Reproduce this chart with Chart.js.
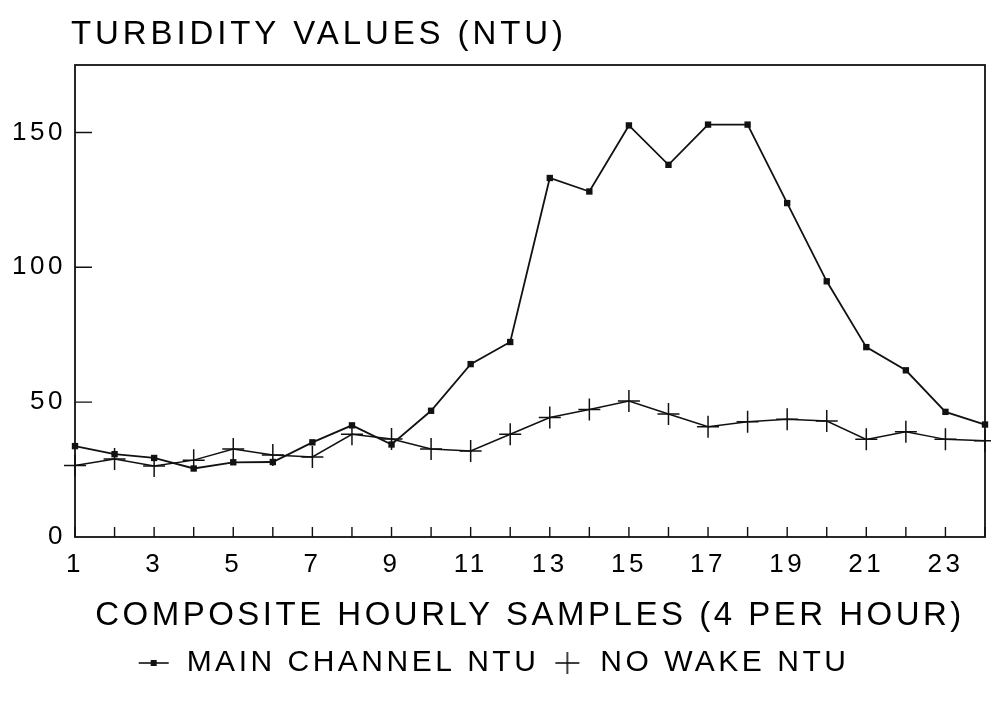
<!DOCTYPE html>
<html>
<head>
<meta charset="utf-8">
<script src="https://cdn.jsdelivr.net/npm/chart.js@4.4.1/dist/chart.umd.min.js"></script>
<style>
  html, body { margin: 0; padding: 0; background: #ffffff; }
  #wrap { width: 991px; height: 705px; position: relative; }
</style>
</head>
<body>
<div id="wrap"><canvas id="c" width="991" height="705"></canvas></div>
<script>
// ---- data ----
const samples = [1,2,3,4,5,6,7,8,9,10,11,12,13,14,15,16,17,18,19,20,21,22,23,24];
const mainChannelNTU = [33.7,30.7,29.3,25.4,27.7,27.8,35.1,41.4,34.3,46.8,64.1,72.3,133.1,128.1,152.6,138.0,152.9,152.9,123.8,94.8,70.4,61.8,46.4,41.7];
const noWakeNTU      = [26.5,28.9,26.3,28.5,32.6,30.4,29.7,38.1,36.3,32.6,31.9,38.1,44.3,47.3,50.4,45.6,40.9,42.7,43.7,43.0,36.2,39.0,36.2,35.7];
const yTickValues = [0, 50, 100, 150];
const xLabelValues = [1,3,5,7,9,11,13,15,17,19,21,23];
const chartTitle = 'TURBIDITY VALUES (NTU)';
const xAxisTitle = 'COMPOSITE HOURLY SAMPLES (4 PER HOUR)';
const seriesNames = ['MAIN CHANNEL NTU', 'NO WAKE NTU'];

const INK = '#111111';
const FONT = "'Liberation Sans', Arial, Helvetica, sans-serif";
const SPACING = '3.5px';

// legend icons (line + marker)
function makeIcon(kind) {
  const cv = document.createElement('canvas');
  cv.width = 36; cv.height = 26;
  const g = cv.getContext('2d');
  g.strokeStyle = INK; g.fillStyle = INK; g.lineWidth = 1.6;
  if (kind === 'rect') {
    g.beginPath(); g.moveTo(3, 13); g.lineTo(33, 13); g.stroke();
    g.fillRect(15, 10, 6, 6);
  } else {
    g.beginPath(); g.moveTo(6, 13); g.lineTo(30, 13); g.stroke();
    g.beginPath(); g.moveTo(18, 2); g.lineTo(18, 24); g.stroke();
  }
  return cv;
}
const icons = [makeIcon('rect'), makeIcon('cross')];

const toXY = (vals) => vals.map((v, i) => ({ x: samples[i], y: v }));

const spacingPlugin = {
  id: 'spacing',
  beforeUpdate(chart) { chart.ctx.letterSpacing = SPACING; },
  beforeLayout(chart) { chart.ctx.letterSpacing = SPACING; },
  beforeDraw(chart) { chart.ctx.letterSpacing = SPACING; }
};

const framePlugin = {
  id: 'frame',
  beforeDatasetsDraw(chart) {
    const { ctx, chartArea: a, scales } = chart;
    ctx.save();
    ctx.strokeStyle = INK;
    ctx.lineWidth = 1.8;
    ctx.strokeRect(a.left, a.top, a.right - a.left, a.bottom - a.top);
    // inward tick marks, positioned by the scales
    ctx.lineWidth = 1.4;
    ctx.beginPath();
    samples.forEach(v => {
      const x = scales.x.getPixelForValue(v);
      ctx.moveTo(x, a.bottom); ctx.lineTo(x, a.bottom - 10);
    });
    yTickValues.forEach(v => {
      if (v === 0) return;
      const y = scales.y.getPixelForValue(v);
      ctx.moveTo(a.left, y); ctx.lineTo(a.left + 17, y);
    });
    ctx.stroke();
    ctx.restore();
  },
  afterDraw(chart) {
    const { ctx } = chart;
    ctx.save();
    ctx.letterSpacing = '3.9px';
    ctx.fillStyle = '#000';
    ctx.font = "33px " + FONT;
    ctx.textAlign = 'left';
    ctx.textBaseline = 'alphabetic';
    ctx.fillText(chartTitle, 71, 44);
    ctx.restore();
  }
};

new Chart(document.getElementById('c'), {
  type: 'line',
  data: {
    datasets: [
      {
        label: seriesNames[0],
        data: toXY(mainChannelNTU),
        borderColor: INK,
        backgroundColor: INK,
        borderWidth: 1.8,
        pointStyle: 'rect',
        pointRadius: 4.5,
        pointBorderWidth: 0,
        pointBackgroundColor: INK,
        tension: 0,
        clip: false
      },
      {
        label: seriesNames[1],
        data: toXY(noWakeNTU),
        borderColor: INK,
        backgroundColor: INK,
        borderWidth: 1.5,
        pointStyle: 'cross',
        pointRadius: 11,
        pointBorderWidth: 1.5,
        pointBorderColor: INK,
        tension: 0,
        clip: false
      }
    ]
  },
  options: {
    responsive: false,
    animation: false,
    devicePixelRatio: 1,
    layout: { autoPadding: false, padding: { top: 65, right: 6, bottom: 17, left: 0 } },
    plugins: {
      title: { display: false },
      tooltip: { enabled: false },
      legend: {
        display: true,
        position: 'bottom',
        labels: {
          usePointStyle: true,
          pointStyleWidth: 36,
          padding: 10,
          color: '#000',
          font: { family: FONT, size: 30 },
          generateLabels(chart) {
            return chart.data.datasets.map((ds, i) => ({
              text: ds.label,
              pointStyle: icons[i],
              fillStyle: INK,
              strokeStyle: INK,
              lineWidth: 0,
              fontColor: '#000',
              datasetIndex: i,
              hidden: false
            }));
          }
        }
      }
    },
    scales: {
      x: {
        type: 'linear',
        min: 1,
        max: 24,
        grid: { display: false, drawTicks: false },
        border: { display: false },
        afterFit(scale) {
          scale.height = 101;
          scale.paddingRight = 0;
          scale.paddingLeft = 0;
        },
        ticks: {
          stepSize: 1,
          autoSkip: false,
          maxRotation: 0,
          padding: 6,
          color: '#000',
          font: { family: FONT, size: 26, lineHeight: 1.7 },
          callback: (v) => xLabelValues.includes(v) ? String(v) : ''
        },
        title: {
          display: true,
          text: xAxisTitle,
          color: '#000',
          font: { family: FONT, size: 33 },
          padding: { top: 0, bottom: 2 }
        }
      },
      y: {
        type: 'linear',
        min: 0,
        max: 175,
        grid: { display: false, drawTicks: false },
        border: { display: false },
        afterFit(scale) { scale.width = 75; },
        afterBuildTicks(scale) { scale.ticks = yTickValues.map(v => ({ value: v })); },
        ticks: {
          padding: 9,
          color: '#000',
          font: { family: FONT, size: 26 }
        }
      }
    }
  },
  plugins: [spacingPlugin, framePlugin]
});
</script>
</body>
</html>
